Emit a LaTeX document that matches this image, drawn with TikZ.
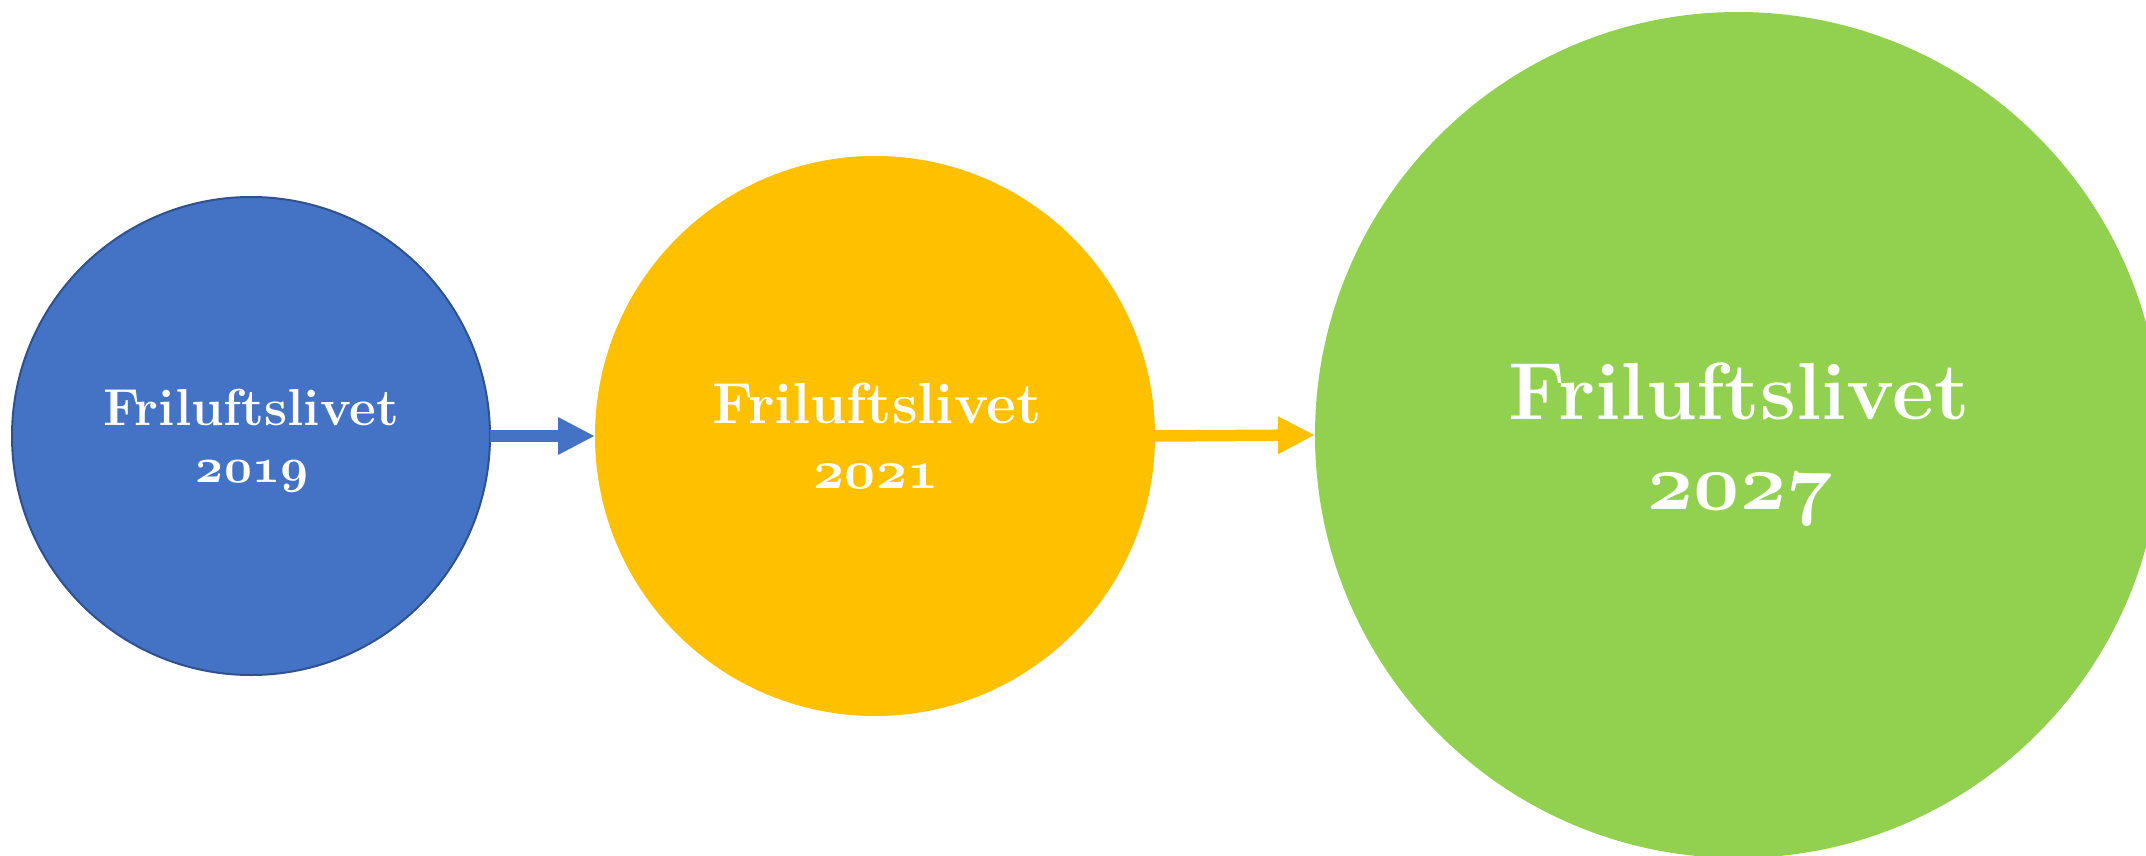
\documentclass[tikz,border=0pt]{standalone}
\usepackage{graphicx}
\usetikzlibrary{arrows.meta}
\definecolor{cblue}{HTML}{4472C4}
\definecolor{cblueedge}{HTML}{2F528F}
\definecolor{cyellow}{HTML}{FFC000}
\definecolor{cgreen}{HTML}{92D050}
\newcommand{\osfnum}[2]{\scalebox{#1}{\fontsize{10}{12}\usefont{OML}{cmm}{b}{it}#2}}
\begin{document}
\begin{tikzpicture}[x=1pt,y=-1pt,
  disc/.style={circle,inner sep=0pt,outer sep=0pt,minimum size=#1},
  lbl/.style={anchor=base,inner sep=0pt,text=white},
  conn/.style={line width=11.5pt,-{Triangle[length=37pt,width=35pt]}}]
\useasboundingbox (0,0) rectangle (2146,856);
\clip (0,0) rectangle (2146,856);
% circles
\node[disc=478pt,fill=cblue,draw=cblueedge,line width=2pt] (b) at (251,436) {};
\node[disc=560pt,fill=cyellow] (y) at (875,436) {};
\node[disc=846pt,fill=cgreen] (g) at (1738,435) {};
% connectors
\draw[conn,draw=cblue,fill=cblue] (b.0.6) -- (y.west);
\draw[conn,draw=cyellow,fill=cyellow] (y.east) -- (g.west);
% labels
\node[lbl,font=\fontsize{52}{57}\selectfont\bfseries] (t1a) at (251,425) {Friluftslivet};
\node[lbl] (t1b) at (252,482) {\osfnum{4.87}{2019}};
\node[lbl,font=\fontsize{57.8}{65}\selectfont\bfseries] (t2a) at (877,423) {Friluftslivet};
\node[lbl] (t2b) at (876,488) {\osfnum{5.4}{2021}};
\node[lbl,font=\fontsize{81}{90}\selectfont\bfseries] (t3a) at (1739,419) {Friluftslivet};
\node[lbl] (t3b) at (1740,509) {\osfnum{8.04}{2027}};
\end{tikzpicture}
\end{document}
